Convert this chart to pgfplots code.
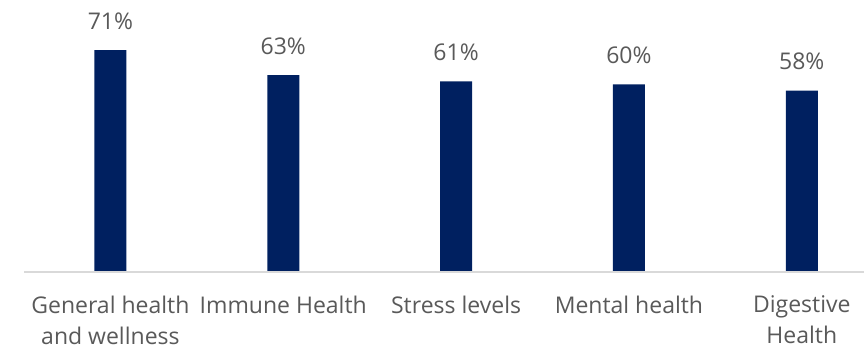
\documentclass[border=0pt]{standalone}
\usepackage{pgfplots}
\pgfplotsset{compat=1.18}
\usepackage{fontspec}
\setmainfont{Open Sans}
\definecolor{barblue}{HTML}{002060}
\definecolor{txtgray}{HTML}{595959}
\definecolor{axgray}{HTML}{D9D9D9}
\begin{document}
\begin{tikzpicture}
\begin{axis}[
  scale only axis,
  width=840pt, height=272pt,
  xmin=-0.5, xmax=4.36,
  ymin=0, ymax=87,
  axis line style={draw=none},
  major tick length=0pt,
  ybar, bar width=32pt,
  xtick=data,
  xticklabels={{General health\\and wellness},{Immune Health},{Stress levels},{Mental health},{Digestive\\Health}},
  ytick=\empty,
  xticklabel style={align=center, font=\fontsize{23}{31}\selectfont, text=txtgray, inner sep=0pt, anchor=north, yshift=-23.5pt},
  /pgf/number format/assume math mode=true,
  nodes near coords={\pgfmathprintnumber{\pgfplotspointmeta}\%},
  every node near coord/.append style={font=\fontsize{23}{27}\selectfont, text=txtgray, inner sep=0pt, anchor=south, yshift=20.5pt},
  clip=false,
]
\addplot[fill=barblue, draw=none] coordinates {(0,71) (1,63) (2,61) (3,60) (4,58)};
\draw[axgray, line width=1.5pt] (axis cs:-0.5,0) -- (axis cs:4.36,0);
\end{axis}
\pgfresetboundingbox
\path[use as bounding box] ([xshift=-24pt,yshift=-77pt]current axis.south west) rectangle (current axis.north east);
\end{tikzpicture}
\end{document}
